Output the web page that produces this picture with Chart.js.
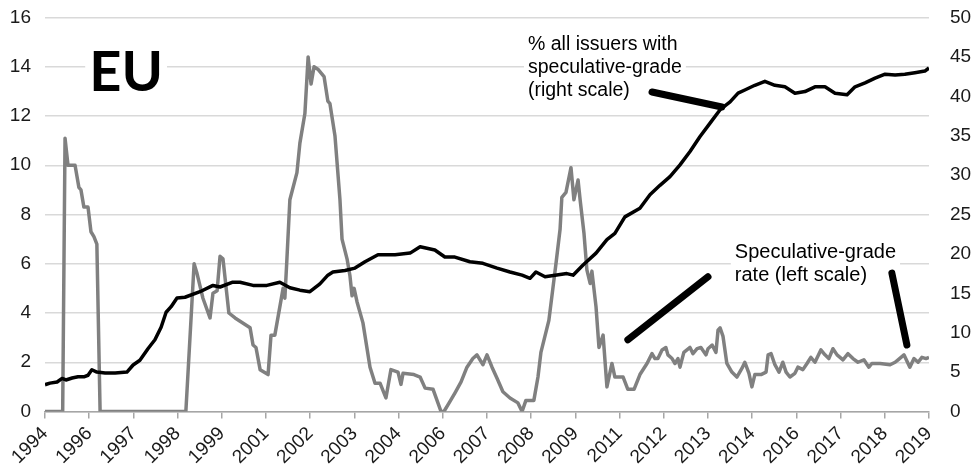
<!DOCTYPE html>
<html>
<head>
<meta charset="utf-8">
<script src="https://cdn.jsdelivr.net/npm/chart.js@4"></script>
<style>
  html, body { margin: 0; padding: 0; background: #fff; }
  canvas { display: block; }
</style>
</head>
<body>
<canvas id="chart" width="980" height="473"></canvas>
<script>
// x = months since start of 1994, one tick every 15 months
const yearLabels = ['1994', '1996', '1997', '1998', '1999', '2001', '2002', '2003', '2004', '2006', '2007',
                    '2008', '2009', '2011', '2012', '2013', '2014', '2016', '2017', '2018', '2019'];

// speculative-grade default rate (left scale, %)
const specMonths = [0, 6, 6.8, 7.8, 10.2, 11.5, 12.2, 13.2, 14.6, 15.6, 16.6, 17.6, 18.7, 47.8, 50.6, 51.6, 53.6, 56, 57, 58.4,
  59.4, 60.4, 62.4, 64.5, 69.6, 70.6, 71.6, 73, 75.7, 76.7, 78, 80.8, 81.4, 82.1, 83.1, 85.5, 86.5, 88.2, 89.3, 90.3,
  91.3, 92.6, 94.7, 96, 96.7, 98.4, 100.1, 100.8, 102.5, 103.5, 104.2, 104.9, 105.9, 107.9, 110.3, 112, 113.7, 115.7, 117.4, 119.8,
  120.8, 121.5, 125.2, 127.3, 129, 131.7, 134.4, 135.4, 137.4, 139.1, 141.2, 143.2, 145.2, 146.6, 148.6, 150, 151.7, 153.4, 155.4, 157.8,
  160.5, 161.9, 163.2, 165.9, 167.3, 168.3, 171, 173.4, 174.8, 175.4, 176.8, 178.5, 179.5, 180.9, 181.6, 182.9, 183.9, 185, 185.6, 187,
  188, 189.4, 190.7, 192.4, 193.4, 196.2, 197.8, 199.9, 201.9, 204.3, 206, 207, 208, 209.4, 210.7, 211.4, 212.8, 213.8, 214.8, 215.5,
  216.8, 218.9, 219.9, 221.3, 222.6, 224.3, 225, 226.4, 227.7, 228.4, 229.1, 230.1, 231.4, 233.1, 234.8, 236.5, 237.5, 238.9, 239.9, 240.9,
  243, 244.7, 245.4, 246.4, 247.7, 249.1, 250.4, 251.5, 252.8, 254.5, 255.5, 257.2, 258.6, 259.9, 261.3, 263.3, 264.7, 266, 267.4, 268.8,
  270.8, 272.5, 274.2, 275.9, 277.9, 279.6, 280.6, 283.4, 286.8, 288.5, 289.5, 291.5, 293.5, 294.9, 296.3, 297.6, 299, 300];
const specRate = [0, 0, 11.1, 10.0, 10.0, 9.1, 9.0, 8.3, 8.3, 7.3, 7.1, 6.8, 0, 0, 6.0, 5.6, 4.6, 3.8, 4.8, 4.9,
  6.3, 6.2, 4.0, 3.8, 3.4, 2.7, 2.6, 1.7, 1.5, 3.1, 3.1, 5.0, 4.6, 6.2, 8.6, 9.7, 10.9, 12.1, 14.4, 13.3,
  14.0, 13.9, 13.6, 12.6, 12.5, 11.2, 8.6, 7.0, 6.2, 5.5, 4.7, 5.0, 4.45, 3.6, 1.8, 1.15, 1.15, 0.55, 1.7, 1.6,
  1.1, 1.55, 1.5, 1.4, 0.95, 0.9, 0, 0, 0.4, 0.75, 1.2, 1.8, 2.15, 2.3, 1.9, 2.3, 1.8, 1.35, 0.8, 0.55,
  0.35, 0, 0.45, 0.45, 1.4, 2.4, 3.7, 6.0, 7.4, 8.7, 8.9, 9.9, 8.6, 9.4, 8.6, 7.25, 5.75, 5.2, 5.7, 4.25,
  2.6, 3.1, 1.0, 1.95, 1.4, 1.4, 0.9, 0.9, 1.5, 1.95, 2.35, 2.15, 2.15, 2.5, 2.6, 2.3, 2.15, 1.95, 2.15, 1.8,
  2.4, 2.6, 2.35, 2.55, 2.6, 2.3, 2.55, 2.7, 2.4, 3.3, 3.4, 3.05, 1.95, 1.6, 1.4, 1.75, 2.0, 1.55, 1.0, 1.5,
  1.5, 1.6, 2.3, 2.35, 1.9, 1.6, 2.0, 1.6, 1.4, 1.55, 1.8, 1.7, 1.95, 2.2, 2.0, 2.5, 2.3, 2.15, 2.55, 2.3,
  2.1, 2.35, 2.15, 2.0, 2.1, 1.8, 1.95, 1.95, 1.9, 2.0, 2.1, 2.3, 1.8, 2.15, 2.0, 2.2, 2.15, 2.2];

// % of all issuers with speculative-grade rating (right scale)
const shareMonths = [0, 1.7, 4.1, 5.8, 7.1, 9.2, 11.2, 13.2, 14.6, 15.9, 17.6, 20.4, 23.8, 27.8, 29.9, 32.2, 35, 37.3, 39.4, 41.1,
  42.8, 44.8, 47.5, 52.6, 57, 59.4, 63.5, 66.2, 70.6, 75.3, 79.7, 83.1, 86.5, 89.9, 93.3, 96, 97.7, 101.8, 105.2, 108.6,
  113, 118.8, 123.9, 127.3, 132.3, 135.7, 139.1, 144.2, 148.6, 153.4, 157.8, 161.9, 164.6, 166.6, 169.7, 173.1, 177.1, 179.2, 182.6, 187,
  190.7, 193.4, 196.8, 201.9, 205.3, 208.7, 212.1, 215.5, 218.9, 222.3, 225.7, 229.1, 232.5, 235.2, 237.5, 240.9, 244.3, 247.7, 251.1, 254.5,
  257.9, 261.3, 264.7, 268.1, 272.2, 274.9, 278.3, 281.7, 285.1, 288.5, 291.8, 295.2, 298.6, 300];
const shareSpec = [3.4, 3.6, 3.75, 4.2, 4.0, 4.25, 4.4, 4.4, 4.6, 5.3, 5.0, 4.9, 4.9, 5.0, 5.9, 6.5, 8.0, 9.1, 10.7, 12.6,
  13.3, 14.4, 14.5, 15.2, 16.0, 15.8, 16.4, 16.4, 16.0, 16.0, 16.4, 15.7, 15.4, 15.2, 16.2, 17.3, 17.7, 17.9, 18.2, 19.0,
  19.9, 19.9, 20.1, 20.9, 20.5, 19.6, 19.6, 19.0, 18.8, 18.2, 17.7, 17.3, 16.9, 17.7, 17.1, 17.3, 17.5, 17.3, 18.6, 20.1,
  21.8, 22.6, 24.7, 25.8, 27.5, 28.7, 29.8, 31.3, 33.0, 34.9, 36.6, 38.3, 39.3, 40.4, 40.8, 41.4, 41.9, 41.4, 41.2, 40.4,
  40.6, 41.2, 41.2, 40.4, 40.2, 41.2, 41.7, 42.3, 42.8, 42.7, 42.8, 43.0, 43.2, 43.6];

const FONT = "'Liberation Sans', Arial, sans-serif";
Chart.defaults.font.family = FONT;
Chart.defaults.color = '#1a1a1a';

// text notes, placed in axis units: x in months, y on the named axis
const notes = [
  { lines: ['EU'], x: 15.0, y: 13.0, axis: 'y', font: "bold 56px Lato, " + FONT, lh: 0 },
  { lines: ['% all issuers with', 'speculative-grade', '(right scale)'], x: 163.9, y: 14.7, axis: 'y', font: '19.5px ' + FONT, lh: 23 },
  { lines: ['Speculative-grade', 'rate (left scale)'], x: 234.1, y: 6.24, axis: 'y', font: '20px ' + FONT, lh: 23 },
];
// pointer strokes from label to line
const pointers = [
  { x0: 206.0, y0: 40.55, x1: 229.7, y1: 38.64, axis: 'y1' },
  { x0: 197.8, y0: 2.91, x1: 225.0, y1: 5.47, axis: 'y' },
  { x0: 287.4, y0: 5.62, x1: 292.5, y1: 2.70, axis: 'y' },
];

const notesPlugin = {
  id: 'notes',
  beforeDatasetsDraw(chart) {
    const { ctx, scales } = chart;
    ctx.save();
    notes.forEach(n => {
      const px = scales.x.getPixelForValue(n.x);
      const py = scales[n.axis].getPixelForValue(n.y);
      ctx.font = n.font;
      const w = Math.max(...n.lines.map(l => ctx.measureText(l).width));
      const top = n.lh ? py - 20 : py - 46;
      const bottom = n.lh ? py + (n.lines.length - 1) * n.lh + 8 : py + 4;
      ctx.fillStyle = '#fff';
      ctx.fillRect(px - 4, top, w + 8, bottom - top);
      ctx.fillStyle = '#000';
      ctx.textBaseline = 'alphabetic';
      ctx.textAlign = 'left';
      n.lines.forEach((l, i) => ctx.fillText(l, px, py + i * n.lh));
    });
    ctx.restore();
  },
  afterDatasetsDraw(chart) {
    const { ctx, scales } = chart;
    ctx.save();
    ctx.strokeStyle = '#000';
    ctx.lineWidth = 7;
    ctx.lineCap = 'round';
    pointers.forEach(p => {
      ctx.beginPath();
      ctx.moveTo(scales.x.getPixelForValue(p.x0), scales[p.axis].getPixelForValue(p.y0));
      ctx.lineTo(scales.x.getPixelForValue(p.x1), scales[p.axis].getPixelForValue(p.y1));
      ctx.stroke();
    });
    ctx.restore();
  },
};

const zip = (xs, ys) => xs.map((x, i) => ({ x, y: ys[i] }));

// keep the value axes from asking for extra room above/below the plot
const fitSide = w => axis => { axis.width = w; axis.paddingTop = 0; axis.paddingBottom = 0; };

new Chart(document.getElementById('chart'), {
  type: 'line',
  data: {
    datasets: [
      {
        label: 'Speculative-grade rate (left scale)',
        data: zip(specMonths, specRate),
        yAxisID: 'y',
        borderColor: '#808080',
        borderWidth: 3.5,
        pointRadius: 0,
        tension: 0,
        borderJoinStyle: 'round',
        order: 2,
      },
      {
        label: '% all issuers with speculative-grade (right scale)',
        data: zip(shareMonths, shareSpec),
        yAxisID: 'y1',
        borderColor: '#000',
        borderWidth: 3.5,
        pointRadius: 0,
        tension: 0,
        borderJoinStyle: 'round',
        order: 1,
      },
    ],
  },
  options: {
    responsive: false,
    animation: false,
    layout: { padding: { top: 17.5, left: 0, right: 0, bottom: 0 } },
    plugins: { legend: { display: false }, tooltip: { enabled: false } },
    scales: {
      x: {
        type: 'linear',
        min: 0, max: 300,
        afterBuildTicks: axis => { axis.ticks = yearLabels.map((_, i) => ({ value: i * 15 })); },
        afterFit: axis => { axis.height = 61.5; axis.paddingLeft = 0; axis.paddingRight = 0; },
        ticks: {
          autoSkip: false,
          maxRotation: 45, minRotation: 45,
          padding: 4,
          font: { size: 19 },
          callback: (v, i) => yearLabels[i],
        },
        grid: { drawOnChartArea: false, drawTicks: true, tickLength: 7, color: '#a6a6a6', lineWidth: 1.5 },
        border: { display: true, color: '#a6a6a6', width: 1.5 },
      },
      y: {
        position: 'left',
        min: 0, max: 16,
        afterFit: fitSide(45),
        ticks: { stepSize: 2, padding: 14, font: { size: 19 } },
        grid: { color: '#d9d9d9', lineWidth: 1.5, drawTicks: false },
        border: { display: false },
      },
      y1: {
        position: 'right',
        min: 0, max: 50,
        afterFit: fitSide(51),
        ticks: { stepSize: 5, padding: 21, font: { size: 19 } },
        grid: { display: false, drawTicks: false, tickLength: 0 },
        border: { display: false },
      },
    },
  },
  plugins: [notesPlugin],
});
</script>
</body>
</html>
